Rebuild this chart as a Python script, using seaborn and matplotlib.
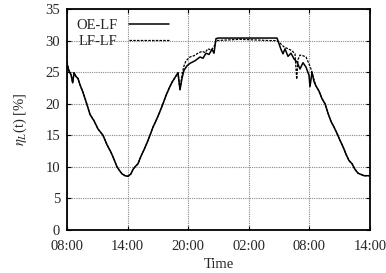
import matplotlib
matplotlib.use("Agg")
import matplotlib.pyplot as plt
import seaborn as sns
import pandas as pd
import numpy as np

# x positions read in pixels -> hours since 08:00
oe_px = [67, 69, 71, 72.7, 74, 76, 78, 80, 83, 86.7, 90, 94, 98, 103, 107, 111, 114, 117, 120, 122,
         125, 128, 131, 133, 135, 138, 141, 144, 147, 150, 153, 156, 159, 163, 166, 169, 172, 176, 178,
         180, 182, 184, 187, 190, 195, 200, 203, 206, 209, 212, 214, 216, 218, 277, 279, 281, 283, 285,
         288, 291, 294, 297, 300, 303, 306, 309, 310, 312, 314, 316, 319, 322, 325, 328, 331, 334, 337,
         340, 343, 346, 349, 352, 355, 358, 361, 364, 370]
oe_val = [26.2, 25.2, 24.6, 23.3, 24.9, 24.3, 24.0, 23.0, 21.8, 20.0, 18.3, 17.3, 16.0, 15.0, 13.5, 12.3,
          11.2, 10.0, 9.3, 8.9, 8.6, 8.5, 8.9, 9.6, 10.0, 10.5, 11.7, 12.7, 13.8, 15.0, 16.3, 17.3, 18.4,
          20.0, 21.3, 22.4, 23.4, 24.4, 24.9, 22.2, 24.0, 25.3, 26.0, 26.4, 26.8, 27.4, 27.2, 28.0, 27.8,
          28.6, 28.0, 30.3, 30.4, 30.4, 29.5, 28.6, 27.9, 28.7, 27.5, 28.0, 27.1, 26.6, 25.5, 26.5, 25.8,
          24.5, 22.7, 25.0, 23.5, 22.8, 22.0, 20.8, 20.0, 18.5, 17.2, 16.3, 15.3, 14.2, 13.2, 12.0, 11.0,
          10.5, 9.6, 9.0, 8.8, 8.6, 8.6]

lf_px = [67, 68, 69, 71, 72.7, 74, 76, 78, 80, 83, 86.7, 90, 94, 98, 103, 107, 111, 114, 117, 120, 122,
         125, 128, 131, 133, 135, 138, 141, 144, 147, 150, 153, 156, 159, 163, 166, 169, 172, 176, 178,
         180, 182, 184, 186, 190, 194, 198, 202, 205, 208, 211, 214, 216, 240, 270, 277, 280, 284, 288,
         292, 295, 296.7, 298, 300, 303, 306, 309, 311, 314, 316, 319, 322, 325, 328, 331, 334, 337,
         340, 343, 346, 349, 352, 355, 358, 361, 364, 370]
lf_val = [26.6, 26.0, 25.2, 24.6, 23.3, 24.9, 24.3, 24.0, 23.0, 21.8, 20.0, 18.3, 17.3, 16.0, 15.0, 13.5,
          12.3, 11.2, 10.0, 9.3, 8.9, 8.6, 8.5, 8.9, 9.6, 10.0, 10.5, 11.7, 12.7, 13.8, 15.0, 16.3, 17.3,
          18.4, 20.0, 21.3, 22.4, 23.4, 24.4, 24.9, 22.2, 24.6, 26.0, 26.8, 27.4, 27.6, 28.0, 28.3, 28.1,
          28.7, 28.5, 29.0, 30.0, 30.2, 30.0, 30.0, 29.6, 29.0, 28.7, 28.4, 27.9, 23.9, 27.0, 27.7, 27.6,
          27.4, 26.3, 25.5, 23.8, 22.8, 22.0, 20.8, 20.0, 18.5, 17.2, 16.3, 15.3, 14.2, 13.2, 12.0, 11.0,
          10.5, 9.6, 9.0, 8.8, 8.6, 8.6]

tick_hours = [0, 6, 12, 18, 24, 30]
tick_labels = ["08:00", "14:00", "20:00", "02:00", "08:00", "14:00"]
y_ticks = [0, 5, 10, 15, 20, 25, 30, 35]

oe_t = (np.array(oe_px) - 67) / 10.1
lf_t = (np.array(lf_px) - 67) / 10.1

df_oe = pd.DataFrame({"t": oe_t, "v": oe_val})
df_lf = pd.DataFrame({"t": lf_t, "v": lf_val})

sns.set_style("ticks")
plt.rcParams["font.family"] = ["Liberation Serif", "DejaVu Serif"]
plt.rcParams["mathtext.fontset"] = "stix"

fig = plt.figure(figsize=(3.86, 2.73), dpi=100)
ax = fig.add_axes([67 / 386, 1 - 230 / 273, (370 - 67) / 386, (230 - 9) / 273])

sns.lineplot(data=df_oe, x="t", y="v", ax=ax, color="black", linewidth=1.1, label="OE-LF",
             sort=False, estimator=None)
sns.lineplot(data=df_lf, x="t", y="v", ax=ax, color="black", linewidth=0.9, label="LF-LF",
             sort=False, estimator=None, linestyle=(0, (2, 1)))

ax.set_xlim(0, 30)
ax.set_ylim(0, 35)
ax.set_xticks(tick_hours)
ax.set_xticklabels(tick_labels)
ax.set_yticks(y_ticks)
ax.grid(True, color="#888888", linestyle=(0, (1, 1)), linewidth=0.8)
ax.tick_params(direction="in", length=3, labelsize=10.5, top=True, right=True, color="black",
               width=0.8)
ax.tick_params(axis="x", pad=7)
ax.tick_params(axis="y", pad=5)
for s in ax.spines.values():
    s.set_linewidth(1.3)
    s.set_color("black")
ax.set_xlabel("Time", fontsize=10.5, labelpad=4)
ax.set_ylabel(r"$\eta_L$(t) [%]", fontsize=10.5, labelpad=12)

leg = ax.legend(loc="upper left", frameon=False, markerfirst=False, fontsize=10.5,
                handlelength=2.7, borderaxespad=0.25, labelspacing=0.2, handletextpad=0.8)

fig.savefig("out.png", dpi=100)
